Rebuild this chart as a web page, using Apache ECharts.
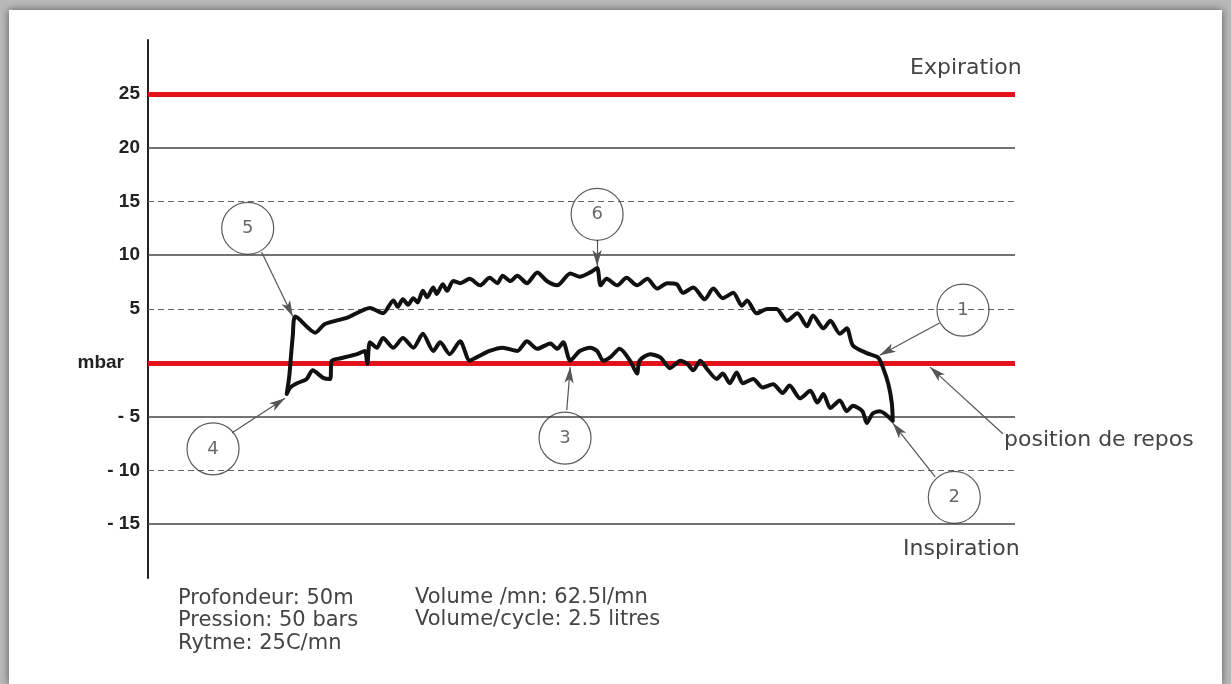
<!DOCTYPE html>
<html>
<head>
<meta charset="utf-8">
<script src="https://cdn.jsdelivr.net/npm/echarts@6/dist/echarts.min.js"></script>
<style>
  html, body { margin: 0; padding: 0; background: #b9b9b9; }
  #paper { position: absolute; left: 9px; top: 10px; width: 1213px; height: 674px; background: #fff; box-shadow: 0 0 8px rgba(0,0,0,0.55); }
  #chart { position: absolute; left: 0; top: 0; width: 1231px; height: 684px; }
</style>
</head>
<body>
<div id="paper"></div>
<div id="chart"></div>
<script>
// axe des pressions (mbar)
const yTicks = [-15, -10, -5, 0, 5, 10, 15, 20, 25];
const solidLines = [20, 10, -5, -15];
const dashedLines = [15, 5, -10];
const redLines = [25, 0];

// expiration : de 4 vers 5, 6, 1 puis 2
const expX = [16.0, 16.3, 16.5, 16.7, 17.0, 19.3, 20.4, 23.0, 25.6, 27.1, 28.3, 28.8, 29.4, 30.0, 30.6, 31.1, 31.7, 32.2, 32.9, 33.3,
  34.0, 34.5, 35.2, 36.0, 37.1, 38.3, 39.4, 40.3, 40.9, 41.8, 42.6, 43.7, 44.9, 46.0, 47.2, 48.7, 49.8, 51.0, 51.8, 52.2,
  52.9, 54.1, 55.2, 56.4, 57.6, 58.7, 59.9, 61.0, 61.7, 62.9, 64.2, 65.2, 66.3, 67.5, 68.5, 69.1, 70.2, 71.4, 72.5, 73.7,
  74.9, 76.0, 76.7, 77.9, 78.7, 79.8, 80.6, 81.3, 82.9, 84.2, 84.8, 85.4, 85.8, 85.9];
const expP = [-2.9, -1.2, 0.7, 2.5, 4.3, 2.8, 3.6, 4.2, 5.1, 4.6, 5.8, 5.2, 5.9, 5.4, 6.0, 5.6, 6.7, 6.1, 7.0, 6.4,
  7.3, 6.7, 7.6, 7.4, 7.8, 7.2, 7.9, 7.4, 8.1, 7.6, 8.1, 7.4, 8.4, 7.6, 7.2, 8.3, 8.0, 8.4, 8.8, 7.2,
  7.8, 7.2, 7.9, 7.2, 7.8, 6.9, 7.4, 7.3, 6.5, 7.0, 5.9, 6.9, 6.0, 6.5, 5.3, 5.8, 4.6, 5.0, 5.0, 3.9,
  4.6, 3.4, 4.4, 3.2, 3.9, 2.7, 3.2, 1.6, 0.9, 0.5, -0.5, -2.0, -3.8, -5.4];

// inspiration : de 2 vers 3 puis 4
const insX = [84.4, 83.6, 82.9, 82.4, 81.3, 80.6, 79.8, 78.7, 77.9, 77.2, 76.4, 75.2, 74.0, 73.2, 72.1, 70.9, 69.8, 68.6, 67.9, 67.1,
  66.3, 65.6, 64.5, 63.7, 62.9, 62.2, 61.4, 60.2, 59.1, 57.9, 56.7, 56.4, 55.6, 54.4, 53.3, 52.5, 51.8, 51.0, 49.8, 48.7,
  47.9, 47.2, 46.4, 44.9, 43.7, 42.6, 40.9, 39.4, 37.9, 37.1, 36.0, 34.8, 33.7, 32.9, 31.7, 30.6, 29.4, 28.3, 27.1, 26.4,
  25.6, 25.3, 25.0, 24.1, 22.1, 21.2, 21.0, 20.2, 19.0, 18.3, 17.2, 16.4, 16.0];
const insP = [-4.5, -4.7, -5.6, -4.5, -4.0, -4.5, -3.5, -4.2, -2.9, -3.7, -2.6, -3.3, -2.1, -2.8, -2.0, -2.3, -1.5, -1.9, -0.9, -1.9,
  -1.0, -1.5, -0.6, 0.2, -0.7, -0.1, 0.2, -0.5, 0.5, 0.8, 0.2, -1.0, 0.2, 1.3, 0.5, 0.2, 1.1, 1.4, 1.1, 0.2,
  1.9, 1.3, 1.8, 1.3, 2.0, 1.1, 1.4, 1.1, 0.5, 0.2, 2.0, 0.8, 1.9, 1.1, 2.7, 1.4, 2.3, 1.4, 2.3, 1.4,
  1.9, -0.1, 1.1, 0.8, 0.4, 0.2, -1.5, -1.4, -0.7, -1.5, -1.9, -2.3, -2.9];

// repères numérotés : centre du cercle, départ et pointe de la flèche
const markNames = ['1', '2', '3', '4', '5', '6'];
const markCenters = [[94.0, 4.9], [93.0, -12.5], [48.1, -7.0], [7.5, -8.0], [11.5, 12.5], [51.8, 13.8]];
const arrowFrom = [[91.3, 3.7], [90.8, -10.6], [48.3, -4.4], [9.7, -6.5], [13.1, 10.3], [51.8, 11.4]];
const arrowTo = [[84.4, 0.7], [85.9, -5.6], [48.7, -0.4], [15.8, -3.3], [16.7, 4.3], [51.8, 9.0]];
const reposFrom = [98.6, -6.6];
const reposTo = [90.2, -0.4];

const textFont = '"DejaVu Sans", sans-serif';
const loop = expX.map((x, i) => [x, expP[i]]).concat(insX.map((x, i) => [x, insP[i]]));

const chart = echarts.init(document.getElementById('chart'));

const gridLines = []
  .concat(solidLines.map(v => ({ yAxis: v, lineStyle: { color: '#444', width: 1.5, type: 'solid' } })))
  .concat(dashedLines.map(v => ({ yAxis: v, lineStyle: { color: '#666', width: 1.2, type: [6, 4] } })))
  .concat(redLines.map(v => ({ yAxis: v, lineStyle: { color: '#e3121b', width: 5, type: 'solid' } })));

const arrows = arrowFrom.map((p, i) => [{ coord: p }, { coord: arrowTo[i] }]);
arrows.push([{ coord: reposFrom }, { coord: reposTo }]);

const option = {
  backgroundColor: 'transparent',
  animation: false,
  grid: { left: 148, right: 216, top: 40, bottom: 106 },
  xAxis: { type: 'value', min: 0, max: 100, show: false },
  yAxis: {
    type: 'value',
    min: -20,
    max: 30,
    interval: 5,
    axisLine: { show: true, onZero: false, lineStyle: { color: '#222', width: 2 } },
    axisTick: { show: false },
    splitLine: { show: false },
    axisLabel: {
      margin: 8,
      fontFamily: '"Liberation Sans", Arial, sans-serif',
      fontSize: 19,
      fontWeight: 'bold',
      color: '#222',
      formatter: v => {
        if (v === 0) return '{m|mbar}';
        if (yTicks.indexOf(v) < 0) return '';
        return v < 0 ? '- ' + (-v) : String(v);
      },
      rich: { m: { fontFamily: '"Liberation Sans", Arial, sans-serif', fontSize: 19, fontWeight: 'bold', color: '#222', padding: [0, 16, 0, 0] } }
    }
  },
  series: [
    {
      name: 'grille',
      type: 'line',
      data: [],
      z: 1,
      silent: true,
      markLine: { silent: true, z: 1, symbol: 'none', label: { show: false }, data: gridLines }
    },
    {
      name: 'cycle',
      type: 'line',
      data: loop,
      z: 3,
      symbol: 'none',
      smooth: 0.25,
      lineStyle: { color: '#111', width: 4, join: 'round', cap: 'round' }
    },
    {
      name: 'repères',
      type: 'scatter',
      z: 4,
      data: markCenters.map((c, i) => ({ value: c, name: markNames[i] })),
      symbol: 'circle',
      symbolSize: 52,
      itemStyle: { color: 'rgba(255,255,255,0)', borderColor: '#333', borderWidth: 1.2 },
      label: { show: true, position: 'inside', formatter: '{b}', fontFamily: textFont, fontSize: 18, color: '#444' },
      markLine: {
        silent: true,
        z: 4,
        symbol: ['none', 'arrow'],
        symbolSize: [7, 16],
        label: { show: false },
        lineStyle: { color: '#555', width: 1.2, type: 'solid' },
        data: arrows
      }
    }
  ],
  graphic: [
    { type: 'text', left: 910, top: 57, style: { text: 'Expiration', font: '22px ' + textFont, fill: '#444' } },
    { type: 'text', left: 903, top: 538, style: { text: 'Inspiration', font: '22px ' + textFont, fill: '#444' } },
    { type: 'text', left: 1004, top: 429, style: { text: 'position de repos', font: '22px ' + textFont, fill: '#444' } },
    { type: 'text', left: 178, top: 587, style: { text: 'Profondeur: 50m\nPression: 50 bars\nRytme: 25C/mn', font: '21px ' + textFont, fill: '#444', lineHeight: 22.5 } },
    { type: 'text', left: 415, top: 586, style: { text: 'Volume /mn: 62.5l/mn\nVolume/cycle: 2.5 litres', font: '21px ' + textFont, fill: '#444', lineHeight: 22.5 } }
  ]
};

chart.setOption(option);
</script>
</body>
</html>
